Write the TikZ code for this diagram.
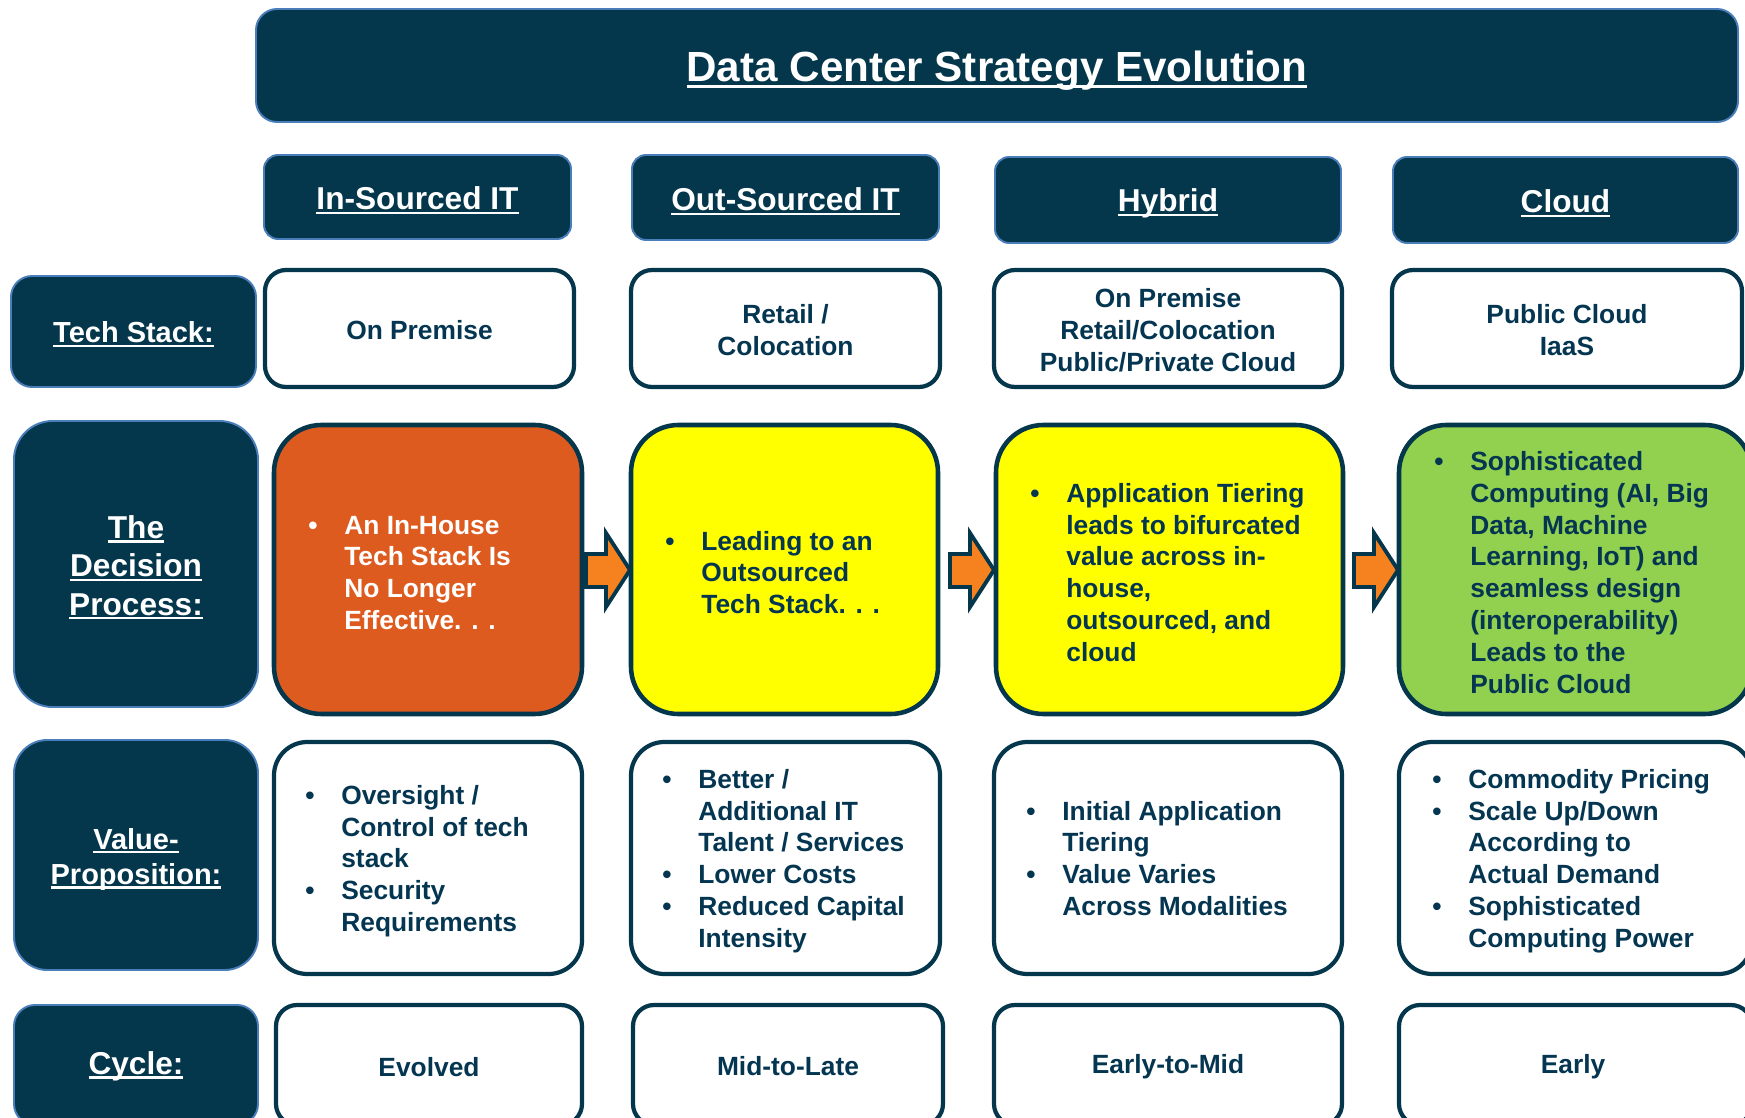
\documentclass[tikz,border=0pt]{standalone}
\usepackage{fontspec}
\setmainfont{Liberation Sans}
\usetikzlibrary{positioning}
\definecolor{dc-navy}{HTML}{04364C}
\definecolor{dc-edge}{HTML}{4A7EBB}
\definecolor{dc-ink}{HTML}{053651}
\definecolor{dc-orange}{HTML}{DE5B20}
\definecolor{dc-yellow}{HTML}{FFFF00}
\definecolor{dc-green}{HTML}{92D050}
\definecolor{dc-arrow}{HTML}{F5821F}
\newcommand\ulbox[1]{\setbox0\hbox{#1}\rlap{\rule[-0.14em]{\wd0}{0.075em}}\box0}
\newcommand\blist[1]{\begin{tabular}{@{}p{0.72cm}@{}l@{}}#1\end{tabular}}

\begin{document}
\begin{tikzpicture}[x=0.02cm, y=-0.02cm, line join=round,
    darkbox/.style={fill=dc-navy, draw=dc-edge, line width=1.1pt, rounded corners=8pt},
    cellbox/.style={fill=white, draw=dc-navy, line width=2.4pt, rounded corners=12pt},
    bigbox/.style={draw=dc-navy, line width=2.6pt, rounded corners=27pt},
    title/.style={text=white, font=\fontsize{24}{29}\selectfont\bfseries},
    head/.style={text=white, font=\fontsize{18}{22}\selectfont\bfseries},
    rowlabel/.style={text=white, align=center, font=\fontsize{16.5}{20}\selectfont\bfseries},
    body/.style={text=dc-ink, align=center, font=\fontsize{15}{18.1}\selectfont\bfseries},
    bullets/.style={text=dc-ink, anchor=west, inner sep=0pt, font=\fontsize{15}{18.1}\selectfont\bfseries},
    blockarrow/.style={fill=dc-arrow, draw=dc-navy, line width=2.2pt, line join=miter}]

    % frame
    \useasboundingbox (0,0) rectangle (1745,1118);
    \clip (0,0) rectangle (1745,1118);

    % title
    \draw[darkbox, rounded corners=12pt] (256,9) rectangle (1738,122);
    \node[title] (title) at (997,71) {\ulbox{Data Center Strategy Evolution}};

    % column heads
    \draw[darkbox] (264,155) rectangle (571,239);
    \draw[darkbox] (632,155) rectangle (939,240);
    \draw[darkbox] (995,157) rectangle (1341,243);
    \draw[darkbox] (1393,157) rectangle (1738,243);
    \node[head] (insourced) at (417.5,200.5) {\ulbox{In-Sourced IT}};
    \node[head] (outsourced) at (785.5,201.5) {\ulbox{Out-Sourced IT}};
    \node[head] (hybrid) at (1168,203.5) {\ulbox{Hybrid}};
    \node[head] (cloud) at (1565.5,203.5) {\ulbox{Cloud}};

    % row labels
    \draw[darkbox, rounded corners=12pt] (11,276) rectangle (256,387);
    \draw[darkbox, rounded corners=22pt] (14,421) rectangle (258,707);
    \draw[darkbox, rounded corners=19pt] (14,740) rectangle (258,970);
    \draw[darkbox, rounded corners=12pt] (14,1005) rectangle (258,1125);
    \node[rowlabel] (techlbl) at (133.5,334.5) {\ulbox{Tech Stack:}};
    \node[rowlabel, font=\fontsize{18}{21.8}\selectfont\bfseries] (declbl) at (136,567.5)
        {\ulbox{The}\\\ulbox{Decision}\\\ulbox{Process:}};
    \node[rowlabel] (vallbl) at (136,859.5) {\ulbox{Value-}\\\ulbox{Proposition:}};
    \node[rowlabel, font=\fontsize{18}{22}\selectfont\bfseries] (cyclbl) at (136,1066) {\ulbox{Cycle:}};

    % tech stack
    \draw[cellbox] (265,270) rectangle (574,387);
    \draw[cellbox] (631,270) rectangle (940,387);
    \draw[cellbox] (994,270) rectangle (1342,387);
    \draw[cellbox] (1392,270) rectangle (1742,387);
    \node[body] (tech1) at (419.5,330) {On Premise};
    \node[body] (tech2) at (785.5,330) {Retail /\\Colocation};
    \node[body] (tech3) at (1168,330) {On Premise\\Retail/Colocation\\Public/Private Cloud};
    \node[body] (tech4) at (1567,330) {Public Cloud\\IaaS};

    % decision process
    \draw[bigbox, fill=dc-orange] (274,425) rectangle (582,714);
    \draw[bigbox, fill=dc-yellow] (631,425) rectangle (938,714);
    \draw[bigbox, fill=dc-yellow] (996,425) rectangle (1343,714);
    \draw[bigbox, fill=dc-green] (1399,425) rectangle (1752,714);
    \node[bullets, text=white] (dec1) at (308,575.5) {\blist{\textbullet & An In-House\\ & Tech Stack Is\\ & No Longer\\ & Effective. . .}};
    \node[bullets] (dec2) at (665,575.5) {\blist{\textbullet & Leading to an\\ & Outsourced\\ & Tech Stack. . .}};
    \node[bullets] (dec3) at (1030,575.5) {\blist{\textbullet & Application Tiering\\ & leads to bifurcated\\ & value across in-\\ & house,\\ & outsourced, and\\ & cloud}};
    \node[bullets] (dec4) at (1434,575.5) {\blist{\textbullet & Sophisticated\\ & Computing (AI, Big\\ & Data, Machine\\ & Learning, IoT) and\\ & seamless design\\ & (interoperability)\\ & Leads to the\\ & Public Cloud}};

    % arrows
    \foreach \ax in {608,972,1376}
        \draw[blockarrow] (\ax-22,554) -- (\ax-2,554) -- (\ax-2,533) -- (\ax+22,570)
            -- (\ax-2,607) -- (\ax-2,587) -- (\ax-22,587) -- cycle;

    % value proposition
    \draw[cellbox, rounded corners=19pt] (274,742) rectangle (582,974);
    \draw[cellbox, rounded corners=19pt] (631,742) rectangle (940,974);
    \draw[cellbox, rounded corners=19pt] (994,742) rectangle (1342,974);
    \draw[cellbox, rounded corners=19pt] (1399,742) rectangle (1752,974);
    \node[bullets] (val1) at (305,861.5) {\blist{\textbullet & Oversight /\\ & Control of tech\\ & stack\\ \textbullet & Security\\ & Requirements}};
    \node[bullets] (val2) at (662,861.5) {\blist{\textbullet & Better /\\ & Additional IT\\ & Talent / Services\\ \textbullet & Lower Costs\\ \textbullet & Reduced Capital\\ & Intensity}};
    \node[bullets] (val3) at (1026,861.5) {\blist{\textbullet & Initial Application\\ & Tiering\\ \textbullet & Value Varies\\ & Across Modalities}};
    \node[bullets] (val4) at (1432,861.5) {\blist{\textbullet & Commodity Pricing\\ \textbullet & Scale Up/Down\\ & According to\\ & Actual Demand\\ \textbullet & Sophisticated\\ & Computing Power}};

    % cycle
    \draw[cellbox] (276,1005) rectangle (582,1125);
    \draw[cellbox] (633,1005) rectangle (943,1125);
    \draw[cellbox] (994,1005) rectangle (1342,1125);
    \draw[cellbox] (1399,1005) rectangle (1752,1125);
    \node[body] (cyc1) at (429,1067.5) {Evolved};
    \node[body] (cyc2) at (788,1066.5) {Mid-to-Late};
    \node[body] (cyc3) at (1168,1066.5) {Early-to-Mid};
    \node[body] (cyc4) at (1573,1066.5) {Early};

\end{tikzpicture}
\end{document}
